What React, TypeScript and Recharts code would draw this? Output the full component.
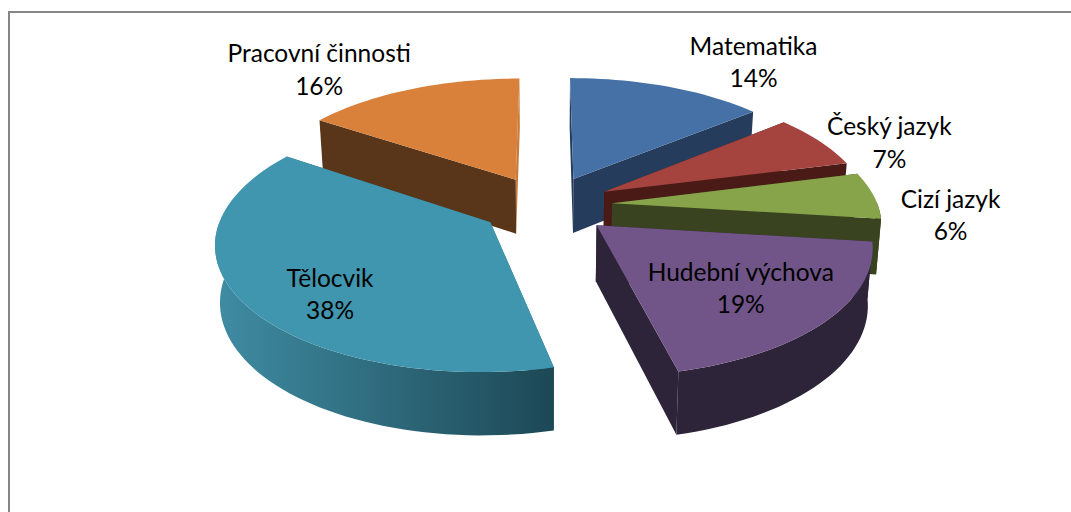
import { Pie, PieChart } from 'recharts';

// Data order starts at the back left slice, so the front slices paint over it
const categories = ['Pracovní činnosti', 'Matematika', 'Český jazyk', 'Cizí jazyk', 'Hudební výchova', 'Tělocvik'];
const shares = [15.6, 14, 7, 6, 19.3, 38.1];

const topColors = ['#d9813a', '#4571a6', '#a5433f', '#87a44a', '#715589', '#4096ae'];
const wallColors = ['#59351a', '#263c5c', '#4a1a17', '#3a431f', '#2e2439', '#2e6e80'];
const endWallColors = ['#c87a38', '#263c5c', '#4a1a17', '#3a431f', '#2e2439', '#2e6e80'];

// label position relative to the middle of the slice rim
const labelShift = [[-92, -19], [86, -24], [70, 2], [77, 20], [-86, -32], [88, -7]];

const pieData = categories.map((name, i) => ({ name, value: shares[i], index: i }));

const EXPLODE = 64.5;
const PLANE_SHIFT = 54;
const CAMERA = 1900;
const HORIZON = 820;
const STRETCH = 1.04;
const RAD = Math.PI / 180;

function project(cx: number, cy: number, mid: number, angle: number, r: number) {
  const u = r * Math.cos(angle * RAD) + EXPLODE * Math.cos(mid * RAD);
  const w = PLANE_SHIFT - STRETCH * r * Math.sin(angle * RAD) - EXPLODE * Math.sin(mid * RAD);
  const s = 1 / (1 - w / CAMERA);
  const x = cx + u * s;
  const y = cy + HORIZON * (s - 1);
  const depth = 54 + 40 * (s - 1);
  return { x, y, bx: cx + (x - cx) * 0.985, by: y + depth };
}

function Slice3D(props: any) {
  const { cx, cy, outerRadius, startAngle, endAngle, midAngle, payload } = props;
  const i = payload.index;
  const steps = Math.max(4, Math.ceil(Math.abs(endAngle - startAngle) / 2));
  const rim = [];
  const frontRim = [];
  for (let k = 0; k <= steps; k++) {
    const angle = startAngle + ((endAngle - startAngle) * k) / steps;
    const p = project(cx, cy, midAngle, angle, outerRadius);
    rim.push(p);
    // the outer wall only shows on the half that faces the viewer
    if (Math.sin(angle * RAD) <= 0.02) frontRim.push(p);
  }
  const apex = project(cx, cy, midAngle, midAngle, 0);
  const first = rim[0];
  const last = rim[rim.length - 1];
  const topPath =
    `M${apex.x},${apex.y} ` + rim.map((p) => `L${p.x},${p.y}`).join(' ') + ' Z';
  const rimPath =
    frontRim.map((p, k) => `${k ? 'L' : 'M'}${p.x},${p.y}`).join(' ') +
    ' ' +
    [...frontRim].reverse().map((p) => `L${p.bx},${p.by}`).join(' ') +
    ' Z';
  const side = (p: typeof apex) =>
    `M${apex.x},${apex.y} L${p.x},${p.y} L${p.bx},${p.by} L${apex.bx},${apex.by} Z`;
  const gradId = `rim-${i}`;
  const wall = categories[i] === 'Tělocvik' ? `url(#${gradId})` : wallColors[i];
  return (
    <g>
      <defs>
        <linearGradient id={gradId} x1="0" y1="0" x2="1" y2="0">
          <stop offset="0%" stopColor="#3f8ca3" />
          <stop offset="100%" stopColor="#1d4855" />
        </linearGradient>
      </defs>
      <path d={side(last)} fill={endWallColors[i]} />
      <path d={side(first)} fill={wallColors[i]} />
      {frontRim.length > 1 && <path d={rimPath} fill={wall} />}
      <path d={topPath} fill={topColors[i]} />
    </g>
  );
}

function SliceLabel(props: any) {
  const { cx, cy, outerRadius, midAngle, percent, payload } = props;
  const rimMid = project(cx, cy, midAngle, midAngle, outerRadius);
  const [dx, dy] = labelShift[payload.index];
  const x = rimMid.x + dx;
  const y = rimMid.y + dy;
  return (
    <text x={x} textAnchor="middle" fontFamily="Lato" fontSize={24.5} fill="#000">
      <tspan x={x} y={y - 8}>{payload.name}</tspan>
      <tspan x={x} y={y + 24.5}>{`${Math.round(percent * 100)}%`}</tspan>
    </text>
  );
}

export default function App() {
  return (
    <div style={{ position: 'absolute', left: 0, top: 0, width: 1071, height: 512, overflow: 'hidden', background: '#fff' }}>
      <div style={{ position: 'absolute', left: 8, top: 11, width: 1063, height: 501, borderLeft: '2px solid #868686', borderTop: '2px solid #868686' }} />
      <PieChart width={1071} height={512} style={{ position: 'absolute', left: 0, top: 0 }}>
        <Pie
          data={pieData}
          dataKey="value"
          nameKey="name"
          cx={541}
          cy={176}
          outerRadius={258}
          startAngle={146.16}
          endAngle={-213.84}
          stroke="none"
          shape={Slice3D}
          label={SliceLabel}
          labelLine={false}
          isAnimationActive={false}
        />
      </PieChart>
    </div>
  );
}
